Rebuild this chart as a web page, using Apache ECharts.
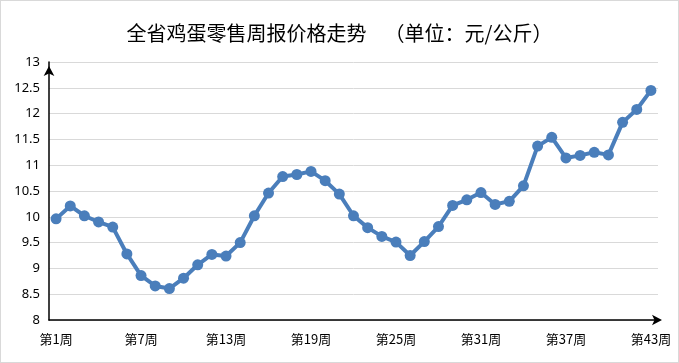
<!DOCTYPE html>
<html>
<head>
<meta charset="utf-8">
<script src="https://cdn.jsdelivr.net/npm/echarts@6/dist/echarts.min.js"></script>
<style>
html,body{margin:0;padding:0;background:#fff;}
#c{width:679px;height:363px;box-sizing:border-box;border:1px solid #d9d9d9;}
</style>
</head>
<body>
<div id="c"></div>
<script>
const titleText = '全省鸡蛋零售周报价格走势    （单位：元/公斤）';
const weeks = [];
for (let i = 1; i <= 43; i++) weeks.push('第' + i + '周');
const prices = [
  9.96, 10.21, 10.02, 9.90, 9.80, 9.28, 8.86, 8.66, 8.61, 8.81,
  9.07, 9.27, 9.24, 9.50, 10.02, 10.46, 10.78, 10.82, 10.88, 10.70,
  10.44, 10.02, 9.79, 9.62, 9.51, 9.25, 9.52, 9.81, 10.22, 10.33,
  10.47, 10.24, 10.30, 10.60, 11.37, 11.54, 11.14, 11.19, 11.25, 11.20,
  11.83, 12.08, 12.45
];
const yMin = 8, yMax = 13, yStep = 0.5;

const chart = echarts.init(document.getElementById('c'), null, {renderer: 'canvas'});
chart.setOption({
  animation: false,
  title: {
    text: titleText,
    left: 'center',
    top: 17,
    textStyle: {fontFamily: '"Noto Sans CJK SC", sans-serif', fontSize: 20, fontWeight: 'normal', color: '#000'}
  },
  grid: {left: 48, right: 20, top: 61, bottom: 42},
  xAxis: {
    type: 'category',
    data: weeks,
    boundaryGap: true,
    axisLine: {lineStyle: {color: '#000', width: 1.5}, symbol: ['none', 'arrow'], symbolSize: [8, 10], symbolOffset: [0, 4]},
    axisTick: {show: false},
    axisLabel: {interval: 5, color: '#000', fontSize: 13, margin: 13, fontFamily: '"Noto Sans CJK SC", sans-serif'},
    splitLine: {show: false}
  },
  yAxis: {
    type: 'value',
    min: yMin, max: yMax, interval: yStep,
    axisLine: {show: true, lineStyle: {color: '#000', width: 1.5}, symbol: ['none', 'arrow'], symbolSize: [8, 10], symbolOffset: [0, -4]},
    axisTick: {show: false},
    axisLabel: {color: '#000', fontSize: 13, margin: 9, fontFamily: '"Noto Sans", sans-serif'},
    splitLine: {lineStyle: {color: '#d9d9d9', width: 1}}
  },
  series: [{
    type: 'line',
    data: prices,
    symbol: 'circle',
    symbolSize: 11,
    showAllSymbol: true,
    lineStyle: {color: '#4a7ebb', width: 4},
    itemStyle: {color: '#4a7ebb'}
  }]
});
</script>
</body>
</html>
